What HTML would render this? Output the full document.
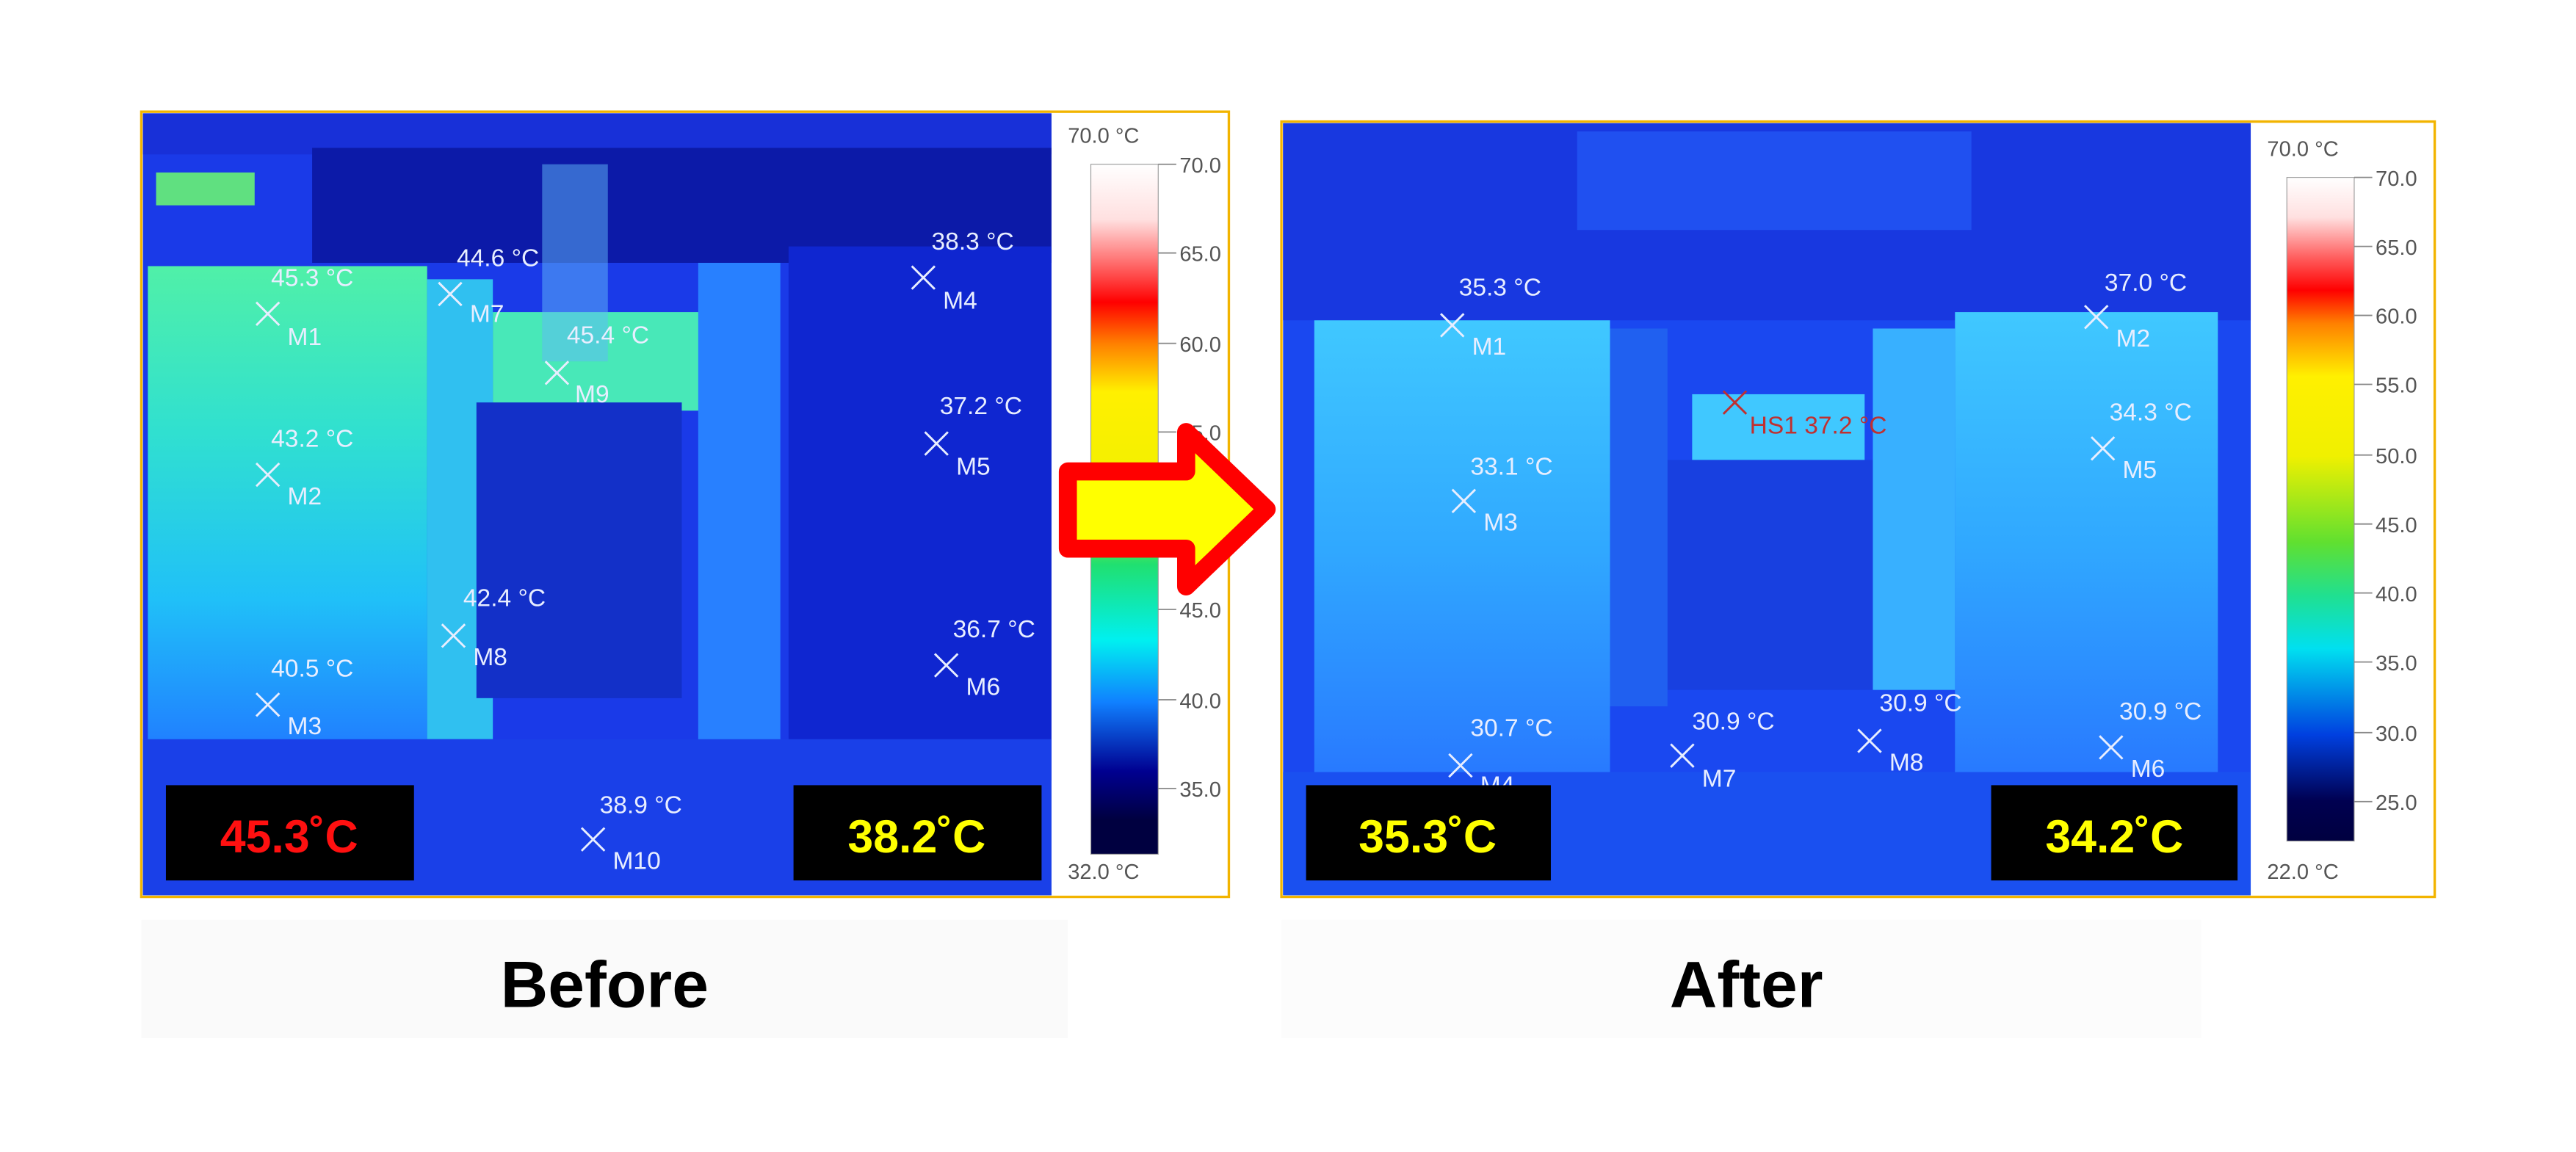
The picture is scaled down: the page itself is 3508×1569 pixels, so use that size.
<!DOCTYPE html>
<html><head><meta charset="utf-8"><style>
html,body{margin:0;padding:0;background:#fff;}
svg{display:block;}
text{font-family:"Liberation Sans",sans-serif;}
</style></head><body>
<svg width="3508" height="1569" viewBox="0 0 1568 701.3" xmlns="http://www.w3.org/2000/svg">
<defs>
<linearGradient id="cbL" x1="0" y1="0" x2="0" y2="1">
<stop offset="0" stop-color="#ffffff"/><stop offset="0.08" stop-color="#ffe0e0"/><stop offset="0.15" stop-color="#ff6060"/><stop offset="0.2" stop-color="#ff0000"/><stop offset="0.26" stop-color="#ff8000"/><stop offset="0.33" stop-color="#fff000"/><stop offset="0.48" stop-color="#f0f000"/><stop offset="0.58" stop-color="#20e070"/><stop offset="0.69" stop-color="#00f0f0"/><stop offset="0.78" stop-color="#1080ff"/><stop offset="0.88" stop-color="#000090"/><stop offset="0.95" stop-color="#000040"/><stop offset="1" stop-color="#000040"/>
</linearGradient>
<linearGradient id="cbR" x1="0" y1="0" x2="0" y2="1">
<stop offset="0" stop-color="#ffffff"/><stop offset="0.06" stop-color="#ffe0e0"/><stop offset="0.12" stop-color="#ff6060"/><stop offset="0.17" stop-color="#ff0000"/><stop offset="0.22" stop-color="#ff8000"/><stop offset="0.3" stop-color="#fff000"/><stop offset="0.42" stop-color="#f0f000"/><stop offset="0.55" stop-color="#60e030"/><stop offset="0.63" stop-color="#20e090"/><stop offset="0.71" stop-color="#00e0f0"/><stop offset="0.84" stop-color="#0040e0"/><stop offset="0.94" stop-color="#000050"/><stop offset="1" stop-color="#000040"/>
</linearGradient>
<linearGradient id="cabL" x1="0" y1="0" x2="0" y2="1">
<stop offset="0" stop-color="#50f0a8"/><stop offset="0.35" stop-color="#30e0d0"/><stop offset="0.7" stop-color="#20c0f8"/><stop offset="1" stop-color="#2080ff"/>
</linearGradient>
<linearGradient id="cabR" x1="0" y1="0" x2="0" y2="1">
<stop offset="0" stop-color="#40c8ff"/><stop offset="0.5" stop-color="#30a8ff"/><stop offset="1" stop-color="#2878ff"/>
</linearGradient>
</defs>
<rect x="86" y="560" width="564" height="72" fill="#fafafa"/>
<rect x="780" y="560" width="560" height="72" fill="#fcfcfc"/>
<!-- LEFT PANEL -->
<rect x="86" y="68" width="662" height="478" fill="#fff" stroke="#f2b400" stroke-width="1.5"/>
<rect x="87" y="69" width="553" height="476" fill="#1a3ae8"/>
<rect x="87" y="69" width="553" height="25" fill="#1830d8"/>
<rect x="190" y="90" width="450" height="70" fill="#0c1aa8"/>
<rect x="480" y="150" width="160" height="325" fill="#0f26d0"/>
<rect x="90" y="162" width="170" height="290" fill="url(#cabL)"/>
<rect x="260" y="170" width="40" height="280" fill="#30c0f0"/>
<rect x="300" y="190" width="130" height="60" fill="#48e8b8"/>
<rect x="290" y="245" width="125" height="180" fill="#1330c8"/>
<rect x="425" y="160" width="50" height="300" fill="#2880ff"/>
<rect x="95" y="105" width="60" height="20" fill="#60e080"/>
<rect x="87" y="450" width="553" height="95" fill="#1a40e8"/>
<rect x="330" y="100" width="40" height="120" fill="#60b8f8" opacity="0.5"/>
<rect x="664" y="100" width="41" height="420" fill="url(#cbL)" stroke="#999" stroke-width="0.5"/>
<g stroke="#888" stroke-width="0.8">
<line x1="705" y1="100" x2="716" y2="100"/><line x1="705" y1="154" x2="716" y2="154"/><line x1="705" y1="209" x2="716" y2="209"/><line x1="705" y1="263" x2="716" y2="263"/><line x1="705" y1="317" x2="716" y2="317"/><line x1="705" y1="371" x2="716" y2="371"/><line x1="705" y1="426" x2="716" y2="426"/><line x1="705" y1="480" x2="716" y2="480"/>
</g>
<g font-size="13" fill="#555">
<text x="650" y="87">70.0 °C</text><text x="650" y="535">32.0 °C</text>
<text x="718" y="105">70.0</text><text x="718" y="159">65.0</text><text x="718" y="214">60.0</text><text x="718" y="268">55.0</text><text x="718" y="322">50.0</text><text x="718" y="376">45.0</text><text x="718" y="431">40.0</text><text x="718" y="485">35.0</text>
</g>
<g font-size="15" fill="#e8eeff" stroke="none">
<text x="165" y="174">45.3 °C</text><text x="175" y="210">M1</text>
<text x="278" y="162">44.6 °C</text><text x="286" y="196">M7</text>
<text x="345" y="209">45.4 °C</text><text x="350" y="245">M9</text>
<text x="165" y="272">43.2 °C</text><text x="175" y="307">M2</text>
<text x="282" y="369">42.4 °C</text><text x="288" y="405">M8</text>
<text x="165" y="412">40.5 °C</text><text x="175" y="447">M3</text>
<text x="365" y="495">38.9 °C</text><text x="373" y="529">M10</text>
<text x="567" y="152">38.3 °C</text><text x="574" y="188">M4</text>
<text x="572" y="252">37.2 °C</text><text x="582" y="289">M5</text>
<text x="580" y="388">36.7 °C</text><text x="588" y="423">M6</text>
</g>
<g stroke="#e8eeff" stroke-width="1.3">
<path d="M156 184l14 14M170 184l-14 14"/><path d="M267 172l14 14M281 172l-14 14"/><path d="M332 220l14 14M346 220l-14 14"/><path d="M156 282l14 14M170 282l-14 14"/><path d="M269 380l14 14M283 380l-14 14"/><path d="M156 422l14 14M170 422l-14 14"/><path d="M354 504l14 14M368 504l-14 14"/><path d="M555 162l14 14M569 162l-14 14"/><path d="M563 263l14 14M577 263l-14 14"/><path d="M569 398l14 14M583 398l-14 14"/>
</g>
<rect x="101" y="478" width="151" height="58" fill="#000"/>
<rect x="483" y="478" width="151" height="58" fill="#000"/>
<text x="176" y="519" font-size="28" font-weight="bold" fill="#ff1010" text-anchor="middle">45.3˚C</text>
<text x="558" y="519" font-size="28" font-weight="bold" fill="#ffff00" text-anchor="middle">38.2˚C</text>
<!-- RIGHT PANEL -->
<rect x="780" y="74" width="702" height="472" fill="#fff" stroke="#f2b400" stroke-width="1.5"/>
<rect x="781" y="75" width="589" height="470" fill="#1a48f0"/>
<rect x="781" y="75" width="589" height="120" fill="#1838e0"/>
<rect x="960" y="80" width="240" height="60" fill="#2050f0"/>
<rect x="800" y="195" width="180" height="280" fill="url(#cabR)"/>
<rect x="1190" y="190" width="160" height="285" fill="url(#cabR)"/>
<rect x="1030" y="240" width="105" height="40" fill="#40c8ff"/>
<rect x="1015" y="280" width="125" height="140" fill="#1840e0"/>
<rect x="1140" y="200" width="50" height="220" fill="#38b0ff"/>
<rect x="980" y="200" width="35" height="230" fill="#2060f0"/>
<rect x="781" y="470" width="589" height="75" fill="#1a50f0"/>
<rect x="1392" y="108" width="41" height="404" fill="url(#cbR)" stroke="#999" stroke-width="0.5"/>
<g stroke="#888" stroke-width="0.8">
<line x1="1433" y1="108" x2="1444" y2="108"/><line x1="1433" y1="150" x2="1444" y2="150"/><line x1="1433" y1="192" x2="1444" y2="192"/><line x1="1433" y1="234" x2="1444" y2="234"/><line x1="1433" y1="277" x2="1444" y2="277"/><line x1="1433" y1="319" x2="1444" y2="319"/><line x1="1433" y1="361" x2="1444" y2="361"/><line x1="1433" y1="403" x2="1444" y2="403"/><line x1="1433" y1="446" x2="1444" y2="446"/><line x1="1433" y1="488" x2="1444" y2="488"/>
</g>
<g font-size="13" fill="#555">
<text x="1380" y="95">70.0 °C</text><text x="1380" y="535">22.0 °C</text>
<text x="1446" y="113">70.0</text><text x="1446" y="155">65.0</text><text x="1446" y="197">60.0</text><text x="1446" y="239">55.0</text><text x="1446" y="282">50.0</text><text x="1446" y="324">45.0</text><text x="1446" y="366">40.0</text><text x="1446" y="408">35.0</text><text x="1446" y="451">30.0</text><text x="1446" y="493">25.0</text>
</g>
<g font-size="15" fill="#e8eeff">
<text x="888" y="180">35.3 °C</text><text x="896" y="216">M1</text>
<text x="1281" y="177">37.0 °C</text><text x="1288" y="211">M2</text>
<text x="1284" y="256">34.3 °C</text><text x="1292" y="291">M5</text>
<text x="895" y="289">33.1 °C</text><text x="903" y="323">M3</text>
<text x="895" y="448">30.7 °C</text><text x="901" y="483">M4</text>
<text x="1030" y="444">30.9 °C</text><text x="1036" y="479">M7</text>
<text x="1144" y="433">30.9 °C</text><text x="1150" y="469">M8</text>
<text x="1290" y="438">30.9 °C</text><text x="1297" y="473">M6</text>
</g>
<text x="1065" y="264" font-size="15" fill="#c03030">HS1 37.2 °C</text>
<g stroke="#e8eeff" stroke-width="1.3">
<path d="M877 191l14 14M891 191l-14 14"/><path d="M1269 186l14 14M1283 186l-14 14"/><path d="M1273 266l14 14M1287 266l-14 14"/><path d="M884 298l14 14M898 298l-14 14"/><path d="M882 459l14 14M896 459l-14 14"/><path d="M1017 453l14 14M1031 453l-14 14"/><path d="M1131 444l14 14M1145 444l-14 14"/><path d="M1278 448l14 14M1292 448l-14 14"/>
</g>
<path d="M1049 238l14 14M1063 238l-14 14" stroke="#c03030" stroke-width="1.3"/>
<rect x="795" y="478" width="149" height="58" fill="#000"/>
<rect x="1212" y="478" width="150" height="58" fill="#000"/>
<text x="869" y="519" font-size="28" font-weight="bold" fill="#ffff00" text-anchor="middle">35.3˚C</text>
<text x="1287" y="519" font-size="28" font-weight="bold" fill="#ffff00" text-anchor="middle">34.2˚C</text>
<!-- ARROW -->
<path d="M650 287 H722 V263 L771 310 L722 357 V334 H650 Z" fill="#ffff00" stroke="#ff0000" stroke-width="11" stroke-linejoin="round"/>
<!-- LABELS -->
<text x="368" y="613" font-size="40" font-weight="bold" fill="#000" text-anchor="middle">Before</text>
<text x="1063" y="613" font-size="40" font-weight="bold" fill="#000" text-anchor="middle">After</text>
</svg>
</body></html>
